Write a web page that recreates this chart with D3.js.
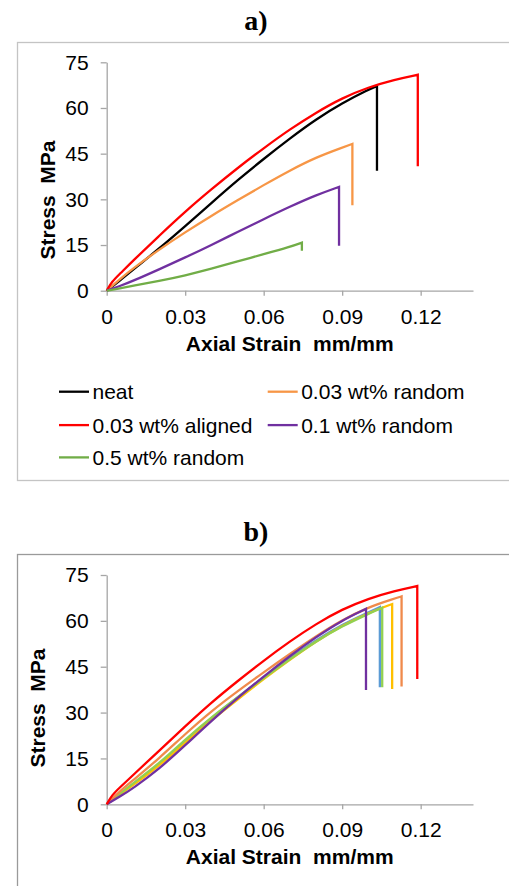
<!DOCTYPE html>
<html>
<head>
<meta charset="utf-8">
<script src="https://cdn.jsdelivr.net/npm/d3@7"></script>
<style>
  html, body { margin: 0; padding: 0; background: #fff; }
  svg { display: block; }
</style>
</head>
<body>
<svg id="chart" width="509" height="886"></svg>
<script>
// ---- axis ticks ----
const strainTicks = [0, 0.03, 0.06, 0.09, 0.12];
const stressTicks = [0, 15, 30, 45, 60, 75];

// ---- panel a: [strain (mm/mm), stress (MPa)] ----
const seriesNamesA = ["neat", "0.03 wt% random", "0.03 wt% aligned", "0.1 wt% random", "0.5 wt% random"];
const neat = [[0,0],[0.005,3.3],[0.01,6.8],[0.02,13.8],[0.03,21.2],[0.04,28.8],[0.05,36.3],[0.06,43.3],[0.07,50],[0.08,56.3],[0.09,61.6],[0.1,66],[0.1033,67.2]];
const random003 = [[0,0],[0.005,3.8],[0.01,7.3],[0.02,13.5],[0.03,19.2],[0.04,24.6],[0.05,29.7],[0.06,34.7],[0.07,39.5],[0.08,43.8],[0.09,47],[0.0939,48.2]];
const aligned003 = [[0,0],[0.002,3],[0.005,5.5],[0.01,9.8],[0.02,18],[0.03,26],[0.04,33.3],[0.05,40.3],[0.06,46.8],[0.07,53],[0.08,58.5],[0.09,63.3],[0.1,66.8],[0.11,69.3],[0.1189,70.9]];
const random01 = [[0,0],[0.005,1.5],[0.01,3.2],[0.02,7],[0.03,10.9],[0.04,15],[0.05,19.3],[0.06,23.5],[0.07,27.6],[0.08,31.4],[0.0888,34.1]];
const random05 = [[0,0],[0.005,0.8],[0.01,1.6],[0.02,3.2],[0.03,5],[0.04,7.2],[0.05,9.6],[0.06,12],[0.07,14.4],[0.0746,15.8]];
// stress reached right after fracture (vertical drop)
const dropA = [39.4, 28.1, 40.9, 14.8, 13.1];
const colorsA = ["#000000", "#f79646", "#ff0000", "#7030a0", "#71ad47"];

// ---- panel b: [strain (mm/mm), stress (MPa)] ----
const specimenB1 = [[0,0],[0.005,3.2],[0.01,6.5],[0.02,12.7],[0.03,21],[0.04,28.2],[0.05,35],[0.06,41.5],[0.07,47.8],[0.08,53.7],[0.09,58.8],[0.1,62.8],[0.1044,64.5]];
const specimenB2 = [[0,0],[0.005,3.3],[0.01,6.2],[0.02,12.5],[0.03,20.2],[0.04,27.5],[0.05,34.3],[0.06,41],[0.07,47.3],[0.08,53.3],[0.09,58.5],[0.1,62.6],[0.1091,65.5]];
const specimenB3 = [[0,0],[0.005,3.5],[0.01,6.8],[0.02,13.3],[0.03,21.2],[0.04,28.5],[0.05,35],[0.06,41.3],[0.07,47.5],[0.08,53.3],[0.09,58.3],[0.1,62.3],[0.1053,64.3]];
const specimenB4 = [[0,0],[0.005,4.3],[0.01,7.8],[0.02,15],[0.03,23],[0.04,30.5],[0.05,37],[0.06,43.2],[0.07,49.2],[0.08,55],[0.09,60.3],[0.1,64.5],[0.11,67.3],[0.1127,68]];
const specimenB5 = [[0,0],[0.005,2.5],[0.01,5.2],[0.02,11.5],[0.03,19.3],[0.04,27.3],[0.05,34.8],[0.06,41.8],[0.07,48.5],[0.08,54.7],[0.09,60.2],[0.0991,63.9]];
const specimenB6 = [[0,0],[0.002,3],[0.005,5.5],[0.01,9.5],[0.02,17.5],[0.03,25.5],[0.04,33.3],[0.05,40.3],[0.06,47],[0.07,53.3],[0.08,59],[0.09,63.8],[0.1,67.3],[0.11,69.8],[0.1187,71.4]];
const dropB = [38.3, 37.7, 38.3, 38.5, 37.4, 41.0];
const colorsB = ["#5b9bd5", "#ffc000", "#92d050", "#f08a4b", "#7030a0", "#ff0000"];

const FONT = "'Liberation Sans', Arial, sans-serif";
const svg = d3.select("#chart");

const x = d3.scaleLinear().domain([0, 0.14]).range([106.7, 473]);
const fmt = d => d === 0 ? "0" : d3.format(".2f")(d);

function panel(cfg) {
  const y = d3.scaleLinear().domain([0, 75]).range([cfg.yBottom, cfg.yTop]);

  // outer chart frame
  svg.append("rect")
    .attr("x", 17.5).attr("y", cfg.frameTop + 0.5)
    .attr("width", 520).attr("height", cfg.frameHeight)
    .attr("fill", "#fff").attr("stroke", cfg.frameColor).attr("stroke-width", 1.3);

  // panel label
  svg.append("text")
    .attr("x", 256).attr("y", cfg.titleY)
    .attr("text-anchor", "middle")
    .attr("font-family", "'Liberation Serif', serif")
    .attr("font-weight", "bold").attr("font-size", 28)
    .text(cfg.title);

  const g = svg.append("g");

  const yAxis = g.append("g").attr("transform", `translate(${x(0)},0)`)
    .call(d3.axisLeft(y).tickValues(stressTicks).tickSizeInner(6).tickSizeOuter(0).tickPadding(12));
  const xAxis = g.append("g").attr("transform", `translate(0,${y(0)})`)
    .call(d3.axisBottom(x).tickValues(strainTicks).tickFormat(fmt).tickSizeInner(5).tickSizeOuter(0).tickPadding(13));
  [yAxis, xAxis].forEach(a => {
    a.select(".domain").attr("stroke", "#a6a6a6").attr("stroke-width", 1.3);
    a.selectAll(".tick line").attr("stroke", "#a6a6a6").attr("stroke-width", 1.3);
    a.selectAll(".tick text").attr("font-family", FONT).attr("font-size", 21).attr("fill", "#000");
  });

  g.append("text")
    .attr("x", 289.7).attr("y", y(0) + 60)
    .attr("text-anchor", "middle")
    .attr("font-family", FONT).attr("font-weight", "bold").attr("font-size", 21)
    .attr("xml:space", "preserve")
    .text("Axial Strain  mm/mm");

  g.append("text")
    .attr("transform", `translate(${cfg.yTitleX},${cfg.yTitleY}) rotate(-90)`)
    .attr("text-anchor", "middle")
    .attr("font-family", FONT).attr("font-weight", "bold").attr("font-size", 21)
    .attr("xml:space", "preserve")
    .text("Stress  MPa");

  const line = d3.line().x(d => x(d[0])).y(d => y(d[1])).curve(d3.curveBasis);
  cfg.series.forEach((pts, i) => {
    const last = pts[pts.length - 1];
    g.append("path")
      .attr("d", line(pts) + `L${x(last[0])},${y(cfg.drops[i])}`)
      .attr("fill", "none")
      .attr("stroke", cfg.colors[i])
      .attr("stroke-width", 2.3)
      .attr("stroke-linejoin", "miter");
  });
  return { g, y };
}

panel({
  title: "a)", titleY: 30, frameTop: 42, frameHeight: 438, frameColor: "#c4c4c4",
  yTop: 62.3, yBottom: 290.7, yTitleX: 55, yTitleY: 200,
  series: [neat, random003, aligned003, random01, random05],
  drops: dropA, colors: colorsA
});

panel({
  title: "b)", titleY: 541, frameTop: 554, frameHeight: 400, frameColor: "#9a9a9a",
  yTop: 575, yBottom: 804.3, yTitleX: 45, yTitleY: 708,
  series: [specimenB1, specimenB2, specimenB3, specimenB4, specimenB5, specimenB6],
  drops: dropB, colors: colorsB
});

// legend for panel a (two columns, row-major)
const legendCols = [59, 267.7];
const legendRows = [399.3, 432.7, 465];
const legend = svg.append("g");
seriesNamesA.forEach((name, i) => {
  const cx = legendCols[i % 2], by = legendRows[Math.floor(i / 2)];
  const item = legend.append("g");
  item.append("line")
    .attr("x1", cx).attr("x2", cx + 30)
    .attr("y1", by - 7.6).attr("y2", by - 7.6)
    .attr("stroke", colorsA[i]).attr("stroke-width", 2.3);
  item.append("text")
    .attr("x", cx + 33.5).attr("y", by)
    .attr("font-family", FONT).attr("font-size", 21)
    .text(name);
});
</script>
</body>
</html>
